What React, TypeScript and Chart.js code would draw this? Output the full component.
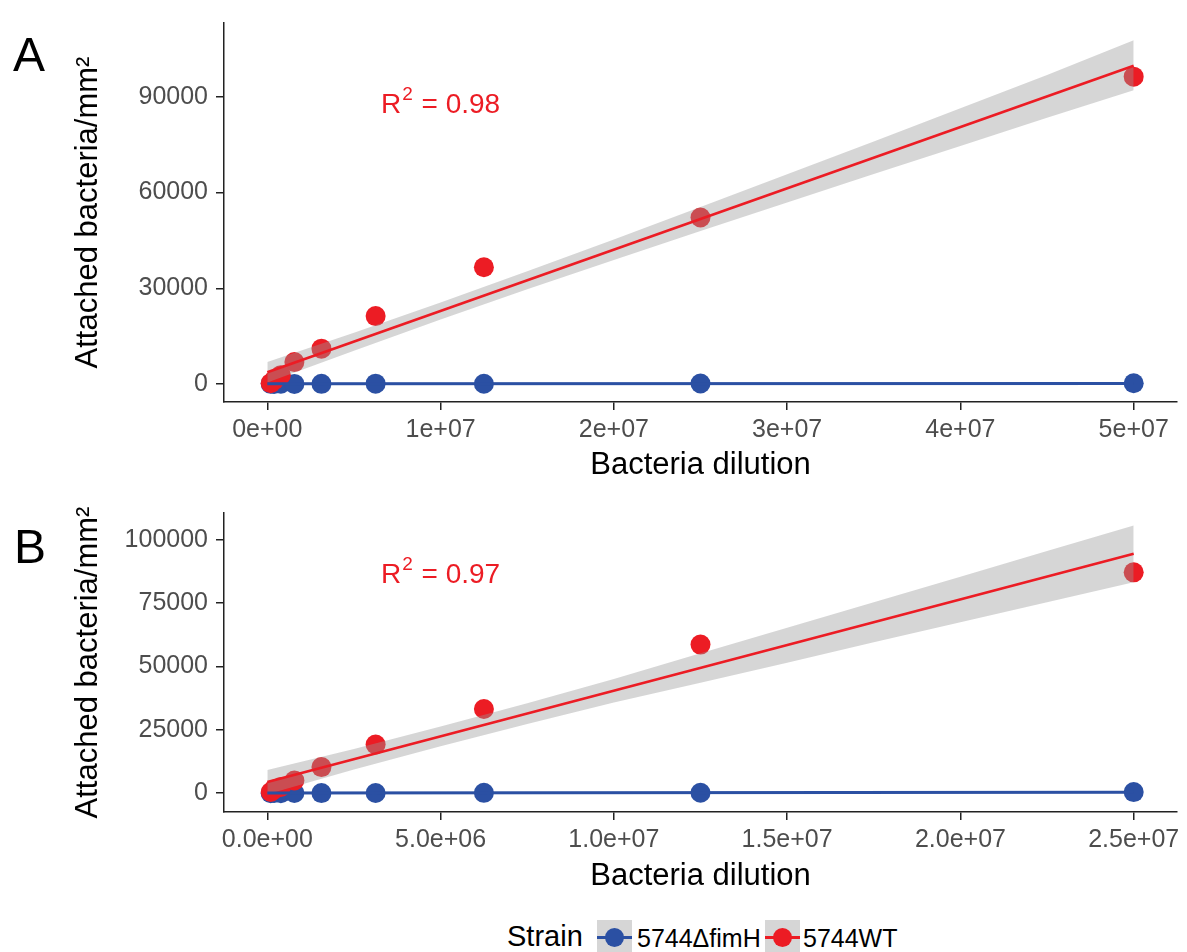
import React, { useEffect, useRef } from "react";
import { Chart, registerables } from "chart.js";

Chart.register(...registerables);

const FONT = '"Liberation Sans", Arial, Helvetica, sans-serif';
const RED = "#EC1C24";
const BLUE = "#2B50A3";
const RIBBON = "rgba(153,153,153,0.4)";

// ---------- Panel A ----------
const dilutionA = [195312.5, 390625, 781250, 1562500, 3125000, 6250000, 12500000, 25000000, 50000000];
const wtA = [300, 1200, 2800, 6900, 11100, 21300, 36600, 52200, 96300];
const fimHA = [80, 40, 120, 60, 90, 150, 110, 200, 260];
const fitXA = [0, 50000000];
const fitWtA = [3700, 99700];
const fitFimHA = [90, 230];
const bandXA = [0, 5e6, 1e7, 1.5e7, 2e7, 2.5e7, 3e7, 3.5e7, 4e7, 4.5e7, 5e7];
const bandLoA = [500, 10480, 20220, 29680, 38900, 47950, 56900, 65800, 74600, 83400, 92000];
const bandHiA = [6900, 16120, 25580, 35320, 45300, 55450, 65700, 76000, 86400, 96800, 107700];
const xTicksA = [0, 1e7, 2e7, 3e7, 4e7, 5e7];
const xLabelsA = ["0e+00", "1e+07", "2e+07", "3e+07", "4e+07", "5e+07"];
const yTicksA = [0, 30000, 60000, 90000];
const yLabelsA = ["0", "30000", "60000", "90000"];
const r2TextA = "0.98";
const r2PosA = { x: 1e7, y: 85000 };

// ---------- Panel B ----------
const dilutionB = [97656.25, 195312.5, 390625, 781250, 1562500, 3125000, 6250000, 12500000, 25000000];
const wtB = [500, 1500, 2500, 5000, 10300, 19200, 33200, 58600, 87100];
const fimHB = [20, 50, 30, 80, 60, 100, 150, 200, 450];
const fitXB = [0, 25000000];
const fitWtB = [4400, 94400];
const fitFimHB = [60, 420];
const bandXB = [0, 2.5e6, 5e6, 7.5e6, 1e7, 1.25e7, 1.5e7, 1.75e7, 2e7, 2.25e7, 2.5e7];
const bandLoB = [-400, 9400, 18500, 27300, 35800, 43600, 51500, 59500, 67400, 75300, 83200];
const bandHiB = [9200, 17400, 26300, 35500, 45000, 55200, 65300, 75300, 85400, 95500, 105600];
const xTicksB = [0, 5e6, 1e7, 1.5e7, 2e7, 2.5e7];
const xLabelsB = ["0.0e+00", "5.0e+06", "1.0e+07", "1.5e+07", "2.0e+07", "2.5e+07"];
const yTicksB = [0, 25000, 50000, 75000, 100000];
const yLabelsB = ["0", "25000", "50000", "75000", "100000"];
const r2TextB = "0.97";
const r2PosB = { x: 5e6, y: 82800 };

const strainNames = ["5744\u0394fimH", "5744WT"];

type Spec = {
  dil: number[]; wt: number[]; fimH: number[];
  fitX: number[]; fitWt: number[]; fitFimH: number[];
  bandX: number[]; bandLo: number[]; bandHi: number[];
  xTicks: number[]; xLabels: string[]; yTicks: number[]; yLabels: string[];
  xMin: number; xMax: number; yMin: number; yMax: number;
  r2: string; r2Pos: { x: number; y: number };
  padTop: number; areaBottom: number; height: number; titlePadBottom: number;
};

const zip = (xs: number[], ys: number[]) => xs.map((x, i) => ({ x, y: ys[i] }));

function r2Plugin(text: string, pos: { x: number; y: number }) {
  return {
    id: "r2label",
    afterDatasetsDraw(chart: any) {
      const { ctx, scales } = chart;
      const px = scales.x.getPixelForValue(pos.x);
      const py = scales.y.getPixelForValue(pos.y);
      const big = `28px ${FONT}`;
      const small = `19px ${FONT}`;
      ctx.save();
      ctx.fillStyle = RED;
      ctx.textBaseline = "alphabetic";
      ctx.textAlign = "left";
      ctx.font = big;
      const wR = ctx.measureText("R").width;
      const wRest = ctx.measureText(" = " + text).width;
      ctx.font = small;
      const w2 = ctx.measureText("2").width;
      let x = px - (wR + w2 + 2 + wRest) / 2;
      ctx.font = big;
      ctx.fillText("R", x, py);
      x += wR + 1;
      ctx.font = small;
      ctx.fillText("2", x, py - 13);
      x += w2 + 1;
      ctx.font = big;
      ctx.fillText(" = " + text, x, py);
      ctx.restore();
    },
  };
}

function buildConfig(s: Spec): any {
  const axisColor = "#222222";
  return {
    type: "scatter",
    data: {
      datasets: [
        { data: zip(s.dil, s.wt), pointRadius: 10, pointBackgroundColor: RED, pointBorderWidth: 0, showLine: false, order: 3 },
        { data: zip(s.dil, s.fimH), pointRadius: 10, pointBackgroundColor: BLUE, pointBorderWidth: 0, showLine: false, order: 3 },
        { data: zip(s.bandX, s.bandHi), showLine: true, pointRadius: 0, borderWidth: 0, borderColor: "transparent", fill: "+1", backgroundColor: RIBBON, order: 2 },
        { data: zip(s.bandX, s.bandLo), showLine: true, pointRadius: 0, borderWidth: 0, borderColor: "transparent", fill: false, order: 2 },
        { data: zip(s.fitX, s.fitWt), showLine: true, pointRadius: 0, borderWidth: 2.6, borderColor: RED, fill: false, order: 1 },
        { data: zip(s.fitX, s.fitFimH), showLine: true, pointRadius: 0, borderWidth: 3, borderColor: BLUE, fill: false, order: 0 },
      ],
    },
    options: {
      responsive: false,
      animation: false,
      devicePixelRatio: 1,
      events: [],
      layout: { padding: { top: s.padTop, left: 0, right: 5, bottom: 0 } },
      plugins: { legend: { display: false }, tooltip: { enabled: false } },
      scales: {
        x: {
          type: "linear",
          position: "bottom",
          min: s.xMin,
          max: s.xMax,
          border: { display: true, color: axisColor, width: 1.5 },
          grid: { display: true, drawOnChartArea: false, drawTicks: true, tickLength: 8, color: axisColor, lineWidth: 1.5 },
          afterBuildTicks: (sc: any) => { sc.ticks = s.xTicks.map((v) => ({ value: v })); },
          ticks: {
            autoSkip: false, maxRotation: 0, minRotation: 0, padding: 5,
            color: "#4D4D4D", font: { family: FONT, size: 25 },
            callback: (v: number) => { const i = s.xTicks.indexOf(v); return i >= 0 ? s.xLabels[i] : ""; },
          },
          title: { display: true, text: "Bacteria dilution", color: "#000", font: { family: FONT, size: 31 }, padding: { top: 0, bottom: s.titlePadBottom } },
          afterFit: (sc: any) => { sc.height = s.height - s.areaBottom; },
        },
        y: {
          type: "linear",
          position: "left",
          min: s.yMin,
          max: s.yMax,
          border: { display: true, color: axisColor, width: 1.5 },
          grid: { display: true, drawOnChartArea: false, drawTicks: true, tickLength: 8, color: axisColor, lineWidth: 1.5 },
          afterBuildTicks: (sc: any) => { sc.ticks = s.yTicks.map((v) => ({ value: v })); },
          ticks: {
            autoSkip: false, padding: 8,
            color: "#4D4D4D", font: { family: FONT, size: 25 },
            callback: (v: number) => { const i = s.yTicks.indexOf(v); return i >= 0 ? s.yLabels[i] : ""; },
          },
          title: { display: true, text: "Attached bacteria/mm\u00B2", color: "#000", font: { family: FONT, size: 31 }, padding: { top: 70, bottom: 0 } },
          afterFit: (sc: any) => { sc.width = 224; },
        },
      },
    },
    plugins: [r2Plugin(s.r2, s.r2Pos)],
  };
}

const specA: Spec = {
  dil: dilutionA, wt: wtA, fimH: fimHA, fitX: fitXA, fitWt: fitWtA, fitFimH: fitFimHA,
  bandX: bandXA, bandLo: bandLoA, bandHi: bandHiA,
  xTicks: xTicksA, xLabels: xLabelsA, yTicks: yTicksA, yLabels: yLabelsA,
  xMin: -2.5e6, xMax: 5.25e7, yMin: -5600, yMax: 113100,
  r2: r2TextA, r2Pos: r2PosA,
  padTop: 21, areaBottom: 402, height: 490, titlePadBottom: 6,
};

const specB: Spec = {
  dil: dilutionB, wt: wtB, fimH: fimHB, fitX: fitXB, fitWt: fitWtB, fitFimH: fitFimHB,
  bandX: bandXB, bandLo: bandLoB, bandHi: bandHiB,
  xTicks: xTicksB, xLabels: xLabelsB, yTicks: yTicksB, yLabels: yLabelsB,
  xMin: -1.25e6, xMax: 2.625e7, yMin: -7400, yMax: 110500,
  r2: r2TextB, r2Pos: r2PosB,
  padTop: 20, areaBottom: 322, height: 410, titlePadBottom: 5,
};

function Panel({ spec, top }: { spec: Spec; top: number }) {
  const ref = useRef<HTMLCanvasElement>(null);
  useEffect(() => {
    const chart = new Chart(ref.current as HTMLCanvasElement, buildConfig(spec));
    return () => chart.destroy();
  }, []);
  return (
    <canvas
      ref={ref}
      width={1187}
      height={spec.height}
      style={{ position: "absolute", left: 0, top, width: 1187, height: spec.height }}
    />
  );
}

function LegendKey({ left, color }: { left: number; color: string }) {
  return (
    <div style={{ position: "absolute", left, top: 920, width: 35, height: 35, background: "#D6D6D6" }}>
      <div style={{ position: "absolute", left: 0, top: 16, width: 35, height: 3, background: color }} />
      <div style={{ position: "absolute", left: 8, top: 8, width: 19, height: 19, borderRadius: "50%", background: color }} />
    </div>
  );
}

export default function App() {
  const label: React.CSSProperties = { position: "absolute", fontFamily: FONT, lineHeight: 1, whiteSpace: "nowrap", color: "#000" };
  return (
    <div style={{ position: "absolute", left: 0, top: 0, width: 1187, height: 952, background: "#fff", overflow: "hidden" }}>
      <Panel spec={specA} top={0} />
      <Panel spec={specB} top={490} />
      <div style={{ ...label, left: 13, top: 31, fontSize: 48 }}>A</div>
      <div style={{ ...label, left: 14, top: 523, fontSize: 48 }}>B</div>
      <div style={{ ...label, left: 507, top: 922, fontSize: 29 }}>Strain</div>
      <LegendKey left={597} color={BLUE} />
      <div style={{ ...label, left: 637, top: 926, fontSize: 25 }}>{strainNames[0]}</div>
      <LegendKey left={765} color={RED} />
      <div style={{ ...label, left: 803, top: 926, fontSize: 25 }}>{strainNames[1]}</div>
    </div>
  );
}
